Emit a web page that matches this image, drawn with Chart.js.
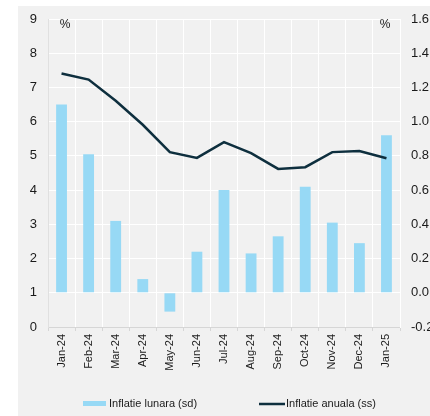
<!DOCTYPE html>
<html>
<head>
<meta charset="utf-8">
<script src="https://cdn.jsdelivr.net/npm/chart.js@4.4.1/dist/chart.umd.min.js"></script>
<style>
  html, body { margin: 0; padding: 0; background: #fff; overflow: hidden; }
  #wrap { position: relative; width: 445px; height: 416px; }
</style>
</head>
<body>
<div id="wrap"><canvas id="inflationChart"></canvas></div>
<script>
// Data
const months = ["Jan-24", "Feb-24", "Mar-24", "Apr-24", "May-24", "Jun-24", "Jul-24",
                "Aug-24", "Sep-24", "Oct-24", "Nov-24", "Dec-24", "Jan-25"];
const monthlyInflation = [1.10, 0.81, 0.42, 0.08, -0.11, 0.24, 0.60, 0.23, 0.33, 0.62, 0.41, 0.29, 0.92];
const annualInflation = [7.41, 7.23, 6.61, 5.91, 5.11, 4.94, 5.40, 5.08, 4.62, 4.67, 5.11, 5.14, 4.93];
const leftTicks = { min: 0, max: 9, step: 1 };
const rightTicks = { min: -0.2, max: 1.6, step: 0.2 };

const barColor = '#97d9f5';
const lineColor = '#0e2f3e';
const textColor = '#1a1a1a';
const fontFamily = '"Liberation Sans", Arial, sans-serif';

// grey panel behind the chart, percent marks and the bottom legend
const decorations = {
    id: 'decorations',
    beforeDraw(chart) {
        const ctx = chart.ctx;
        ctx.save();
        ctx.fillStyle = '#ffffff';
        ctx.fillRect(0, 0, chart.width, chart.height);
        ctx.fillStyle = '#f1f1f1';
        ctx.fillRect(18, 6, chart.width - 18, chart.height - 6);
        ctx.restore();
    },
    afterDraw(chart) {
        const ctx = chart.ctx;
        const area = chart.chartArea;
        ctx.save();
        ctx.fillStyle = textColor;
        ctx.font = '12px ' + fontFamily;
        ctx.textBaseline = 'middle';
        ctx.textAlign = 'center';
        ctx.fillText('%', area.left + 17, area.top + 6);
        ctx.fillText('%', area.right - 15, area.top + 6);

        // legend
        const ds = chart.data.datasets;
        ctx.font = '11px ' + fontFamily;
        ctx.textAlign = 'left';
        const ly = 404;
        ctx.fillStyle = ds[0].backgroundColor;
        ctx.fillRect(83, ly - 3, 23, 5);
        ctx.fillStyle = textColor;
        ctx.fillText(ds[0].label, 109, ly);
        ctx.strokeStyle = ds[1].borderColor;
        ctx.lineWidth = 2.5;
        ctx.beginPath();
        ctx.moveTo(259, ly);
        ctx.lineTo(285, ly);
        ctx.stroke();
        ctx.fillText(ds[1].label, 286, ly);
        ctx.restore();
    }
};

const inflationChart = new Chart(document.getElementById('inflationChart'), {
    type: 'bar',
    data: {
        labels: months,
        datasets: [
            {
                label: 'Inflatie lunara (sd)',
                data: monthlyInflation,
                backgroundColor: barColor,
                yAxisID: 'y2',
                barPercentage: 0.4,
                categoryPercentage: 1.0,
                order: 2
            },
            {
                type: 'line',
                label: 'Inflatie anuala (ss)',
                data: annualInflation,
                borderColor: lineColor,
                backgroundColor: lineColor,
                borderWidth: 2.5,
                pointRadius: 0,
                tension: 0,
                fill: false,
                yAxisID: 'y',
                order: 1
            }
        ]
    },
    options: {
        responsive: true,
        maintainAspectRatio: false,
        animation: false,
        layout: { padding: { top: 19, left: 0, right: 0, bottom: 0 } },
        plugins: {
            legend: { display: false },
            tooltip: { enabled: false }
        },
        scales: {
            x: {
                offset: true,
                grid: {
                    offset: true,
                    color: '#ffffff',
                    lineWidth: 1,
                    drawTicks: true,
                    tickLength: 4,
                    tickColor: '#d6d6d6'
                },
                border: { color: '#d6d6d6', width: 1 },
                ticks: {
                    minRotation: 90,
                    maxRotation: 90,
                    autoSkip: false,
                    padding: 3,
                    color: textColor,
                    font: { family: fontFamily, size: 11 }
                },
                afterFit(scale) { scale.height = 89; }
            },
            y: {
                position: 'left',
                min: leftTicks.min,
                max: leftTicks.max,
                ticks: {
                    stepSize: leftTicks.step,
                    padding: 11,
                    color: textColor,
                    font: { family: fontFamily, size: 13 }
                },
                grid: { color: '#ffffff', lineWidth: 1, drawTicks: false },
                border: { color: '#e0e0e0', width: 1 },
                afterFit(scale) { scale.width = 48; }
            },
            y2: {
                position: 'right',
                min: rightTicks.min,
                max: rightTicks.max,
                ticks: {
                    stepSize: rightTicks.step,
                    padding: 11,
                    color: textColor,
                    font: { family: fontFamily, size: 13 },
                    callback: (v) => v.toFixed(1)
                },
                grid: { drawOnChartArea: false, drawTicks: false },
                border: { color: '#ffffff', width: 1 },
                afterFit(scale) { scale.width = 45; }
            }
        }
    },
    plugins: [decorations]
});
</script>
</body>
</html>
